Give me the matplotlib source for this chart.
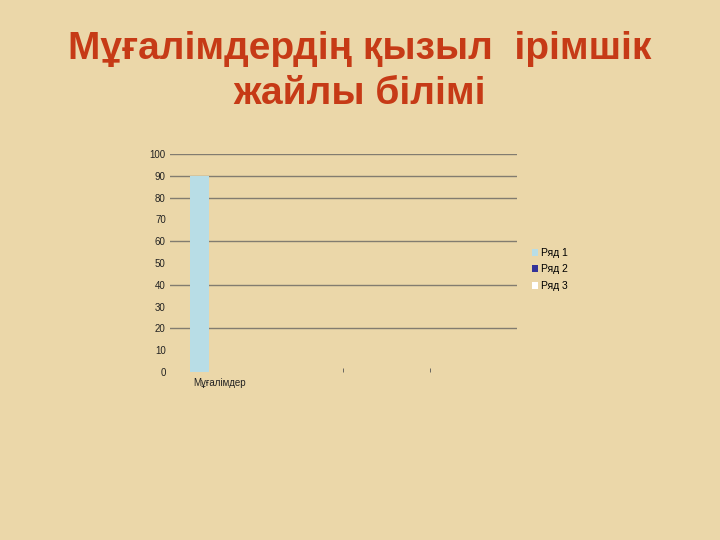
import matplotlib
matplotlib.use("Agg")
import numpy as np
import matplotlib.pyplot as plt
from matplotlib.patches import Patch

# Chart data
categories = ["Мұғалімдер", "", "", ""]
series_names = ["Ряд 1", "Ряд 2", "Ряд 3"]
ryad1 = [90, 0, 0, 0]
ryad2 = [0, 0, 0, 0]
ryad3 = [0, 0, 0, 0]
y_ticks = [0, 10, 20, 30, 40, 50, 60, 70, 80, 90, 100]
grid_values = [20, 40, 60, 80, 90, 100]

bg = "#EBD7A9"
colors = ["#B8DDE6", "#333399", "#FFFFFF"]

plt.rcParams["font.family"] = ["Liberation Sans", "DejaVu Sans"]

fig = plt.figure(figsize=(7.2, 5.4), dpi=100, facecolor=bg)

fig.text(0.5, 0.868, "Мұғалімдердің қызыл  ірімшік\nжайлы білімі",
         ha="center", va="center", fontsize=28, fontweight="bold",
         color="#C63A16", linespacing=1.32)

ax = fig.add_axes([0.236, 0.311, 0.482, 0.404])
ax.set_facecolor("none")

x = np.arange(len(categories))
w = 0.22
for i, vals in enumerate([ryad1, ryad2, ryad3]):
    vals = np.array(vals, dtype=float)
    mask = vals > 0
    ax.bar(x[mask] - 0.16 + i * w, vals[mask], width=w, color=colors[i],
           zorder=3)

for g in grid_values:
    ax.axhline(g, color="#827C70", lw=1.0, zorder=1)

ax.set_xlim(-0.5, len(categories) - 0.5)
ax.set_ylim(0, 100)
ax.set_yticks(y_ticks)
ax.set_yticklabels([str(v) for v in y_ticks], fontsize=7, color="#222222")
ax.tick_params(axis="y", length=0, pad=3)

ax.set_xticks(x + 0.07)
ax.set_xticklabels(categories, fontsize=7, color="#222222")
ax.tick_params(axis="x", length=0, pad=4)
# small category separator marks
ax.set_xticks([1.5, 2.5], minor=True)
ax.tick_params(axis="x", which="minor", length=3, width=0.6, color="#555555",
               direction="in")

for s in ax.spines.values():
    s.set_visible(False)

handles = [Patch(facecolor=c, edgecolor="none") for c in colors]
fig.legend(handles, series_names, loc="center left",
           bbox_to_anchor=(0.733, 0.501), frameon=False, fontsize=7.5,
           handlelength=0.6, handleheight=0.6, handletextpad=0.3,
           labelspacing=0.62, borderaxespad=0)

fig.savefig("out.png", dpi=100, facecolor=bg)
